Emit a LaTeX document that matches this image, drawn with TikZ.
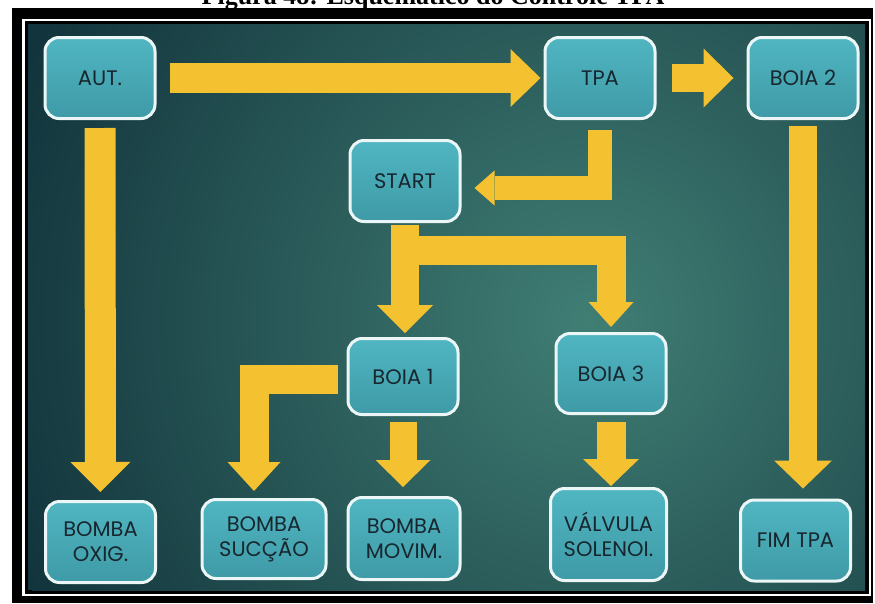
\documentclass[tikz,border=0pt]{standalone}
\usepackage{fontspec}
\newfontfamily\boxfont{Poppins}
\newfontfamily\capfont{Liberation Serif}
\usepackage{tikz}
\usetikzlibrary{arrows.meta,positioning}
\definecolor{bgin}{RGB}{64,126,116}
\definecolor{bgout}{RGB}{18,52,60}
\definecolor{boxtop}{RGB}{80,182,194}
\definecolor{boxbot}{RGB}{62,154,166}
\definecolor{boxline}{RGB}{236,246,246}
\definecolor{boxtext}{RGB}{24,38,46}
\definecolor{gold}{RGB}{244,194,48}
\tikzset{
  box/.style={draw=boxline, line width=3pt, rounded corners=14pt,
    top color=boxtop, bottom color=boxbot,
    minimum width=110pt, minimum height=81pt, inner sep=2pt,
    align=center, text=boxtext, font=\boxfont\fontsize{21}{25}\selectfont},
  pipe/.style n args={3}{draw=gold, line width=#1, line cap=butt, line join=miter,
    -{Triangle[width=#2, length=#3, line width=0pt]}}
}

\begin{document}
\begin{tikzpicture}[x=1pt,y=-1pt]
\clip (0,0) rectangle (875,603);
\fill[black] (12,8) rectangle (873,603);
\draw[white, line width=2.5pt] (23.5,20) rectangle (870,595);
\begin{scope}
  \clip (28,24) rectangle (865,590);
  \fill[bgout] (28,24) rectangle (865,590);
  \shade[inner color=bgin, outer color=bgout] (590,320) circle (620);
\end{scope}
\node[font=\capfont\bfseries\fontsize{26}{30}\selectfont, anchor=base] (cap) at (433,4.5) {Figura 48: Esquemático do Controle TPA};

\node[box] (aut) at (100,78) {AUT.};
\node[box] (tpa) at (600,78) {TPA};
\node[box] (boiatwo) at (803,78) {BOIA 2};
\node[box] (start) at (405,181) {START};
\node[box, minimum height=76pt] (boiaone) at (403,376.5) {BOIA 1};
\node[box, minimum height=80pt] (boiathree) at (611,373.5) {BOIA 3};
\node[box] (oxig) at (100.5,542) {BOMBA\\OXIG.};
\node[box, minimum width=124pt, minimum height=79pt] (succ) at (264,539) {BOMBA\\SUCÇÃO};
\node[box, minimum width=112pt, minimum height=82pt] (movim) at (404,538.5) {BOMBA\\MOVIM.};
\node[box, minimum width=116pt, minimum height=92pt] (valv) at (608.5,534.5) {VÁLVULA\\SOLENOI.};
\node[box] (fim) at (795.5,540.5) {FIM TPA};

\draw[pipe={30pt}{58pt}{30pt}, shorten <=13pt, shorten >=3pt] (aut) -- (tpa);
\draw[pipe={28pt}{59pt}{30pt}, shorten <=15pt, shorten >=13pt] (tpa) -- (boiatwo);
\draw[pipe={31pt}{60pt}{30pt}, shorten <=8pt, shorten >=8pt] (aut) -- (oxig);
\draw[pipe={28pt}{58pt}{28pt}, shorten <=6pt, shorten >=10pt] (boiatwo.south) -- (boiatwo.south |- fim.north);
\draw[pipe={24pt}{35pt}{20pt}] ([yshift=-10pt]tpa.south) |- ([xshift=13pt,yshift=-7pt]start.east);
\draw[pipe={28pt}{56pt}{28pt}, shorten <=2pt, shorten >=4pt] (start.south) -- (start.south |- boiaone.north);
\draw[pipe={29pt}{45pt}{25pt}] ([yshift=-27pt]start.south) -| ([yshift=5pt]boiathree.north);
\draw[pipe={29pt}{53pt}{29pt}] ([xshift=-9pt,yshift=-3pt]boiaone.west) -| ([xshift=-10pt,yshift=7pt]succ.north);
\draw[pipe={27pt}{55pt}{27pt}, shorten <=6pt, shorten >=9pt] (boiaone.south) -- (boiaone.south |- movim.north);
\draw[pipe={29pt}{56pt}{27pt}, shorten <=7pt, shorten >=1pt] (boiathree.south) -- (boiathree.south |- valv.north);
\end{tikzpicture}
\end{document}
